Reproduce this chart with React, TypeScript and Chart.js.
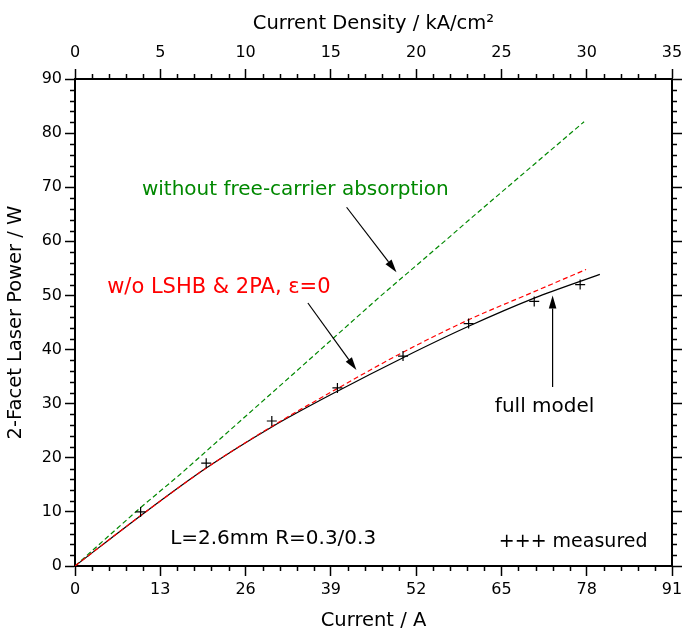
import React, { useEffect, useRef } from 'react';
import { Chart, registerables } from 'chart.js';

Chart.register(...registerables);

const FONT = '"DejaVu Sans", "Liberation Sans", sans-serif';

// Tick labels
const currentTicks = [0, 13, 26, 39, 52, 65, 78, 91];
const densityTicks = [0, 5, 10, 15, 20, 25, 30, 35];
const powerTicks = [0, 10, 20, 30, 40, 50, 60, 70, 80, 90];

// Series: without free-carrier absorption (green dashed)
const noFcaCurrent = [0, 9.9, 16, 31.7, 46.4, 56.8, 60.1, 77.6];
const noFcaPower = [0, 10.7, 16.9, 33.8, 49.7, 60.5, 64.0, 82.1];

// Series: w/o LSHB & 2PA, eps=0 (red dashed)
const noLshbCurrent = [0, 10, 20, 30, 40, 50, 60, 70, 77.9];
const noLshbPower = [0, 9.3, 18.1, 25.8, 32.8, 39.5, 45.5, 50.7, 54.8];

// Series: full model (black solid)
const fullCurrent = [0, 10, 20, 30, 40, 50, 60, 70, 80];
const fullPower = [0, 9.3, 18.1, 25.7, 32.3, 38.5, 44.3, 49.5, 53.9];

// Measured points (+)
const measuredCurrent = [10, 20, 30, 40, 50, 60, 70, 77];
const measuredPower = [10.0, 19.0, 26.8, 32.9, 38.8, 44.8, 48.9, 52.0];

// Annotation texts (anchor in data coordinates: current, power)
const noteTexts = [
  'without free-carrier absorption',
  'w/o LSHB & 2PA, \u03b5=0',
  'full model',
  'L=2.6mm R=0.3/0.3',
  '+++ measured',
];
const noteColors = ['#008800', '#ff0000', '#000000', '#000000', '#000000'];
const noteSizes = [20, 21, 20, 20, 19];
const noteAnchors: [number, number][] = [
  [10.2, 68.6],
  [4.9, 50.5],
  [64.0, 28.5],
  [14.5, 4.1],
  [64.6, 3.5],
];

// Arrows (from -> to, data coordinates)
const arrows: [number, number, number, number][] = [
  [41.4, 66.3, 49.0, 54.3],
  [35.5, 48.6, 42.9, 36.2],
  [72.8, 33.1, 72.8, 50.0],
];

const zip = (xs: number[], ys: number[]) => xs.map((v, i) => ({ x: v, y: ys[i] }));

const minorValues = (majors: number[], parts: number) => {
  const out: number[] = [];
  for (let i = 0; i < majors.length - 1; i++) {
    const a = majors[i];
    const b = majors[i + 1];
    for (let k = 1; k < parts; k++) out.push(a + ((b - a) * k) / parts);
  }
  return out;
};

const overlay = {
  id: 'overlay',
  afterDraw(chart: any) {
    const { ctx, chartArea: a } = chart;
    const x = chart.scales.x;
    const y = chart.scales.y;
    const x2 = chart.scales.x2;
    ctx.save();
    ctx.strokeStyle = '#000';
    ctx.lineWidth = 1.5;
    ctx.beginPath();
    for (const v of minorValues(currentTicks, 5)) {
      const px = Math.round(x.getPixelForValue(v)) + 0.5;
      ctx.moveTo(px, a.bottom);
      ctx.lineTo(px, a.bottom + 5);
    }
    for (const v of minorValues(densityTicks, 5)) {
      const px = Math.round(x2.getPixelForValue(v)) + 0.5;
      ctx.moveTo(px, a.top);
      ctx.lineTo(px, a.top - 5);
    }
    for (const v of minorValues(powerTicks, 5)) {
      const py = Math.round(y.getPixelForValue(v)) + 0.5;
      ctx.moveTo(a.left - 5, py);
      ctx.lineTo(a.left, py);
      ctx.moveTo(a.right, py);
      ctx.lineTo(a.right + 5, py);
    }
    ctx.stroke();

    // annotation texts
    ctx.textBaseline = 'alphabetic';
    ctx.textAlign = 'left';
    noteTexts.forEach((t, i) => {
      ctx.font = `${noteSizes[i]}px ${FONT}`;
      ctx.fillStyle = noteColors[i];
      ctx.fillText(t, x.getPixelForValue(noteAnchors[i][0]), y.getPixelForValue(noteAnchors[i][1]));
    });

    // arrows
    ctx.strokeStyle = '#000';
    ctx.fillStyle = '#000';
    ctx.lineWidth = 1.2;
    for (const [x0, y0, x1, y1] of arrows) {
      const sx = x.getPixelForValue(x0);
      const sy = y.getPixelForValue(y0);
      const ex = x.getPixelForValue(x1);
      const ey = y.getPixelForValue(y1);
      const ang = Math.atan2(ey - sy, ex - sx);
      const len = 13;
      const hw = 3.8;
      const bx = ex - len * Math.cos(ang);
      const by = ey - len * Math.sin(ang);
      ctx.beginPath();
      ctx.moveTo(sx, sy);
      ctx.lineTo(bx, by);
      ctx.stroke();
      ctx.beginPath();
      ctx.moveTo(ex, ey);
      ctx.lineTo(bx + hw * Math.sin(ang), by - hw * Math.cos(ang));
      ctx.lineTo(bx - hw * Math.sin(ang), by + hw * Math.cos(ang));
      ctx.closePath();
      ctx.fill();
    }
    ctx.restore();
  },
};

const tickFont = { family: FONT, size: 16 };
const titleFont = { family: FONT, size: 19.5 };

const axisCommon = (ticks: number[]) => ({
  type: 'linear' as const,
  min: ticks[0],
  max: ticks[ticks.length - 1],
  afterBuildTicks: (scale: any) => {
    scale.ticks = ticks.map((v) => ({ value: v }));
  },
  grid: {
    drawOnChartArea: false,
    drawTicks: true,
    tickLength: 10,
    tickColor: '#000',
    tickWidth: 1.5,
  },
  border: { display: true, color: '#000', width: 2 },
});

const fixHeight = (h: number) => (s: any) => {
  s.height = h;
  s.paddingLeft = 0;
  s.paddingRight = 0;
};

export default function App() {
  const ref = useRef<HTMLCanvasElement | null>(null);

  useEffect(() => {
    document.body.style.margin = '0';
    const canvas = ref.current;
    if (!canvas) return;
    const chart = new Chart(canvas, {
      type: 'line',
      data: {
        datasets: [
          {
            label: 'measured',
            data: zip(measuredCurrent, measuredPower),
            showLine: false,
            pointStyle: 'cross',
            pointRadius: 5,
            pointBorderWidth: 1.2,
            borderColor: '#000',
            backgroundColor: '#000',
          },
          {
            label: 'w/o LSHB & 2PA',
            data: zip(noLshbCurrent, noLshbPower),
            borderColor: '#ff0000',
            borderWidth: 1.2,
            borderDash: [5, 3],
            pointRadius: 0,
            cubicInterpolationMode: 'monotone',
          },
          {
            label: 'full model',
            data: zip(fullCurrent, fullPower),
            borderColor: '#000',
            borderWidth: 1.2,
            pointRadius: 0,
            cubicInterpolationMode: 'monotone',
          },
          {
            label: 'without free-carrier absorption',
            data: zip(noFcaCurrent, noFcaPower),
            borderColor: '#008800',
            borderWidth: 1.2,
            borderDash: [5, 3],
            pointRadius: 0,
            tension: 0,
          },
        ],
      },
      options: {
        responsive: false,
        animation: false,
        devicePixelRatio: 1,
        events: [],
        layout: { padding: 0 },
        plugins: { legend: { display: false }, tooltip: { enabled: false } },
        scales: {
          x: {
            ...axisCommon(currentTicks),
            position: 'bottom',
            afterFit: fixHeight(68),
            ticks: { font: tickFont, color: '#000', padding: 4, maxRotation: 0, autoSkip: false },
            title: {
              display: true,
              text: 'Current / A',
              font: titleFont,
              color: '#000',
              padding: { top: 0, bottom: 1 },
            },
          },
          x2: {
            ...axisCommon(densityTicks),
            axis: 'x',
            position: 'top',
            afterFit: fixHeight(79),
            ticks: { font: tickFont, color: '#000', padding: 7, maxRotation: 0, autoSkip: false },
            title: {
              display: true,
              text: 'Current Density / kA/cm\u00b2',
              font: titleFont,
              color: '#000',
              padding: { top: 12, bottom: 0 },
            },
          },
          y: {
            ...axisCommon(powerTicks),
            position: 'left',
            afterFit: (s: any) => {
              s.width = 75;
            },
            ticks: { font: tickFont, color: '#000', padding: 3, autoSkip: false },
            title: {
              display: true,
              text: '2-Facet Laser Power / W',
              font: titleFont,
              color: '#000',
              padding: { top: 4, bottom: 0 },
            },
          },
          y2: {
            ...axisCommon(powerTicks),
            axis: 'y',
            position: 'right',
            afterFit: (s: any) => {
              s.width = 11;
            },
            ticks: { display: false },
          },
        },
      } as any,
      plugins: [overlay],
    });
    return () => chart.destroy();
  }, []);

  return (
    <div style={{ width: 683, height: 634 }}>
      <canvas ref={ref} width={683} height={634} style={{ display: 'block', width: 683, height: 634 }} />
    </div>
  );
}
